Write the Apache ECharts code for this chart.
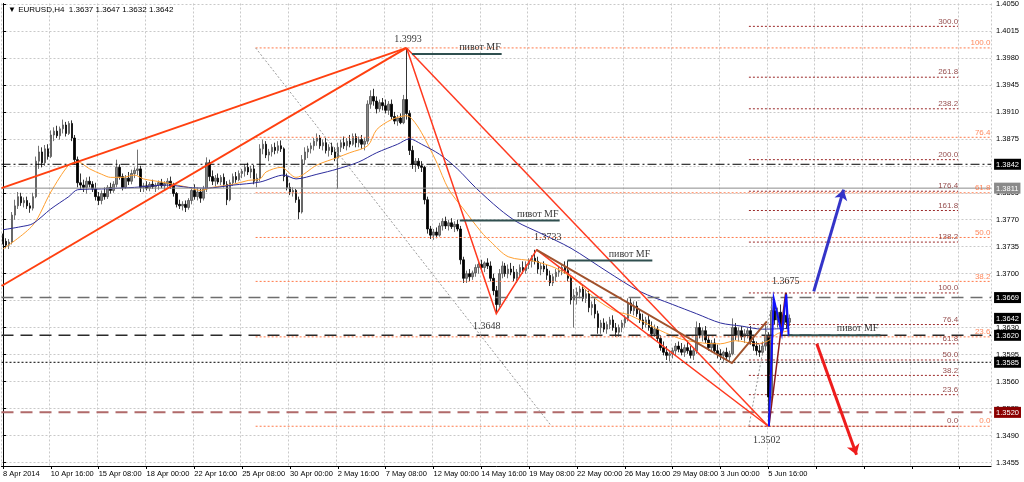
<!DOCTYPE html>
<html><head><meta charset="utf-8">
<script src="https://cdn.jsdelivr.net/npm/echarts@6/dist/echarts.min.js"></script>
<style>html,body{margin:0;padding:0;background:#fff}#c{width:1024px;height:482px}</style>
</head><body><div id="c"></div>
<script>
// ---------- DATA (prices in pips: 3842 -> 1.3842) ----------
const timeLabels = ["8 Apr 2014","10 Apr 16:00","15 Apr 08:00","18 Apr 00:00","22 Apr 16:00","25 Apr 08:00","30 Apr 00:00","2 May 16:00","7 May 08:00","12 May 00:00","14 May 16:00","19 May 08:00","22 May 00:00","26 May 16:00","29 May 08:00","3 Jun 00:00","5 Jun 16:00"];
const yTicks = [1.3455,1.3490,1.3525,1.3560,1.3595,1.3630,1.3665,1.3700,1.3735,1.3770,1.3805,1.3840,1.3875,1.3910,1.3945,1.3980,1.4015,1.4050];
const priceBoxes = [3842,3811,3669,3642,3620,3585,3520];
// [open, high, low, close]
const ohlc = [
[3748,3752,3738,3742],[3742,3746,3733,3737],[3737,3745,3732,3741],[3741,3780,3738,3776],[3776,3796,3770,3788],
[3788,3806,3784,3800],[3800,3805,3788,3792],[3792,3799,3786,3795],[3795,3800,3784,3788],[3788,3792,3779,3785],
[3785,3805,3782,3800],[3800,3852,3798,3846],[3846,3866,3836,3858],[3858,3864,3838,3844],[3844,3867,3840,3862],
[3862,3868,3848,3852],[3852,3886,3850,3880],[3880,3890,3872,3885],[3885,3892,3876,3879],[3879,3891,3874,3888],
[3888,3900,3882,3893],[3893,3897,3878,3882],[3882,3898,3880,3895],[3895,3899,3872,3876],[3876,3880,3842,3848],
[3848,3852,3812,3818],[3818,3830,3810,3815],[3815,3822,3806,3812],[3812,3825,3804,3820],[3820,3826,3812,3816],
[3816,3820,3806,3810],[3810,3818,3795,3800],[3800,3806,3789,3795],[3795,3808,3790,3804],[3804,3812,3796,3800],
[3800,3815,3797,3812],[3812,3818,3804,3808],[3808,3820,3805,3816],[3816,3848,3812,3838],[3838,3842,3822,3826],
[3826,3830,3808,3812],[3812,3828,3810,3824],[3824,3832,3815,3820],[3820,3835,3816,3830],[3830,3838,3824,3834],
[3834,3861,3828,3836],[3836,3840,3806,3812],[3812,3818,3806,3814],[3814,3820,3808,3811],[3811,3819,3807,3816],
[3816,3822,3810,3813],[3813,3818,3806,3815],[3815,3821,3809,3818],[3818,3823,3811,3814],[3814,3820,3808,3817],
[3817,3824,3812,3820],[3820,3826,3810,3814],[3814,3818,3800,3804],[3804,3806,3786,3790],[3790,3796,3784,3788],
[3788,3794,3782,3790],[3790,3795,3780,3786],[3786,3798,3783,3795],[3795,3812,3790,3808],[3808,3816,3796,3800],
[3800,3812,3795,3806],[3806,3810,3792,3798],[3798,3814,3795,3810],[3810,3851,3806,3844],[3844,3848,3820,3826],
[3826,3834,3815,3820],[3820,3828,3813,3824],[3824,3830,3816,3819],[3819,3828,3815,3825],[3825,3830,3812,3816],
[3816,3820,3789,3796],[3796,3822,3794,3818],[3818,3830,3814,3826],[3826,3832,3818,3822],[3822,3834,3820,3830],
[3830,3836,3824,3833],[3833,3842,3826,3838],[3838,3844,3828,3832],[3832,3840,3824,3836],[3836,3841,3816,3820],
[3820,3830,3812,3824],[3824,3868,3820,3862],[3862,3874,3855,3868],[3868,3872,3850,3854],[3854,3862,3846,3858],
[3858,3868,3852,3864],[3864,3870,3855,3860],[3860,3872,3856,3866],[3866,3873,3858,3862],[3862,3864,3820,3826],
[3826,3830,3808,3812],[3812,3818,3802,3806],[3806,3812,3800,3808],[3808,3810,3792,3796],[3796,3800,3771,3780],
[3780,3854,3778,3848],[3848,3864,3842,3858],[3858,3866,3850,3862],[3862,3870,3856,3866],[3866,3876,3860,3872],
[3872,3882,3866,3876],[3876,3880,3862,3866],[3866,3874,3860,3870],[3870,3876,3856,3860],[3860,3868,3852,3864],
[3864,3870,3854,3858],[3858,3864,3846,3850],[3850,3870,3810,3864],[3864,3874,3858,3870],[3870,3878,3862,3866],
[3866,3876,3860,3872],[3872,3880,3864,3868],[3868,3882,3866,3878],[3878,3882,3864,3870],[3870,3878,3864,3874],
[3874,3880,3862,3868],[3868,3876,3860,3872],[3872,3925,3868,3920],[3920,3938,3914,3930],[3930,3940,3918,3924],
[3924,3930,3908,3914],[3914,3926,3910,3922],[3922,3928,3912,3918],[3918,3926,3908,3912],[3912,3924,3906,3920],
[3920,3926,3900,3904],[3904,3910,3894,3898],[3898,3906,3892,3902],[3902,3908,3894,3896],[3896,3932,3894,3926],
[3926,3993,3900,3908],[3908,3912,3854,3860],[3860,3866,3836,3842],[3842,3850,3832,3846],[3846,3850,3836,3840],
[3840,3846,3832,3838],[3838,3840,3790,3796],[3796,3800,3752,3758],[3758,3762,3745,3750],[3750,3758,3744,3754],
[3754,3760,3746,3750],[3750,3766,3748,3762],[3762,3772,3756,3768],[3768,3774,3758,3762],[3762,3770,3756,3766],
[3766,3772,3758,3761],[3761,3768,3754,3764],[3764,3770,3755,3758],[3758,3762,3712,3718],[3718,3722,3688,3694],
[3694,3704,3688,3700],[3700,3706,3690,3696],[3696,3704,3692,3701],[3701,3712,3696,3708],[3708,3716,3700,3712],
[3712,3718,3704,3708],[3708,3716,3702,3714],[3714,3720,3706,3710],[3710,3716,3690,3694],[3694,3700,3672,3678],
[3678,3684,3648,3660],[3660,3706,3656,3700],[3700,3716,3694,3710],[3710,3714,3696,3700],[3700,3712,3694,3706],
[3706,3714,3698,3702],[3702,3710,3690,3694],[3694,3706,3688,3702],[3702,3712,3696,3708],[3708,3716,3700,3704],
[3704,3716,3700,3712],[3712,3720,3706,3716],[3716,3724,3708,3720],[3720,3731,3712,3716],[3716,3722,3700,3706],
[3706,3714,3698,3710],[3710,3716,3702,3706],[3706,3712,3692,3698],[3698,3704,3684,3688],[3688,3700,3684,3696],
[3696,3706,3690,3702],[3702,3710,3696,3704],[3704,3712,3698,3708],[3708,3716,3700,3704],[3704,3717,3690,3694],
[3694,3698,3660,3666],[3666,3680,3630,3672],[3672,3682,3660,3676],[3676,3684,3668,3680],[3680,3686,3664,3668],
[3668,3680,3662,3674],[3674,3678,3650,3656],[3656,3664,3646,3660],[3660,3668,3642,3648],[3648,3652,3622,3630],
[3630,3640,3622,3636],[3636,3642,3624,3628],[3628,3638,3622,3634],[3634,3644,3628,3640],[3640,3646,3626,3630],
[3630,3636,3618,3624],[3624,3634,3618,3630],[3630,3640,3624,3636],[3636,3646,3630,3642],[3642,3668,3638,3662],
[3662,3668,3648,3652],[3652,3664,3646,3658],[3658,3664,3644,3648],[3648,3654,3636,3640],[3640,3648,3628,3634],
[3634,3644,3630,3640],[3640,3646,3626,3630],[3630,3638,3618,3622],[3622,3634,3618,3628],[3628,3632,3612,3616],
[3616,3620,3600,3604],[3604,3612,3594,3598],[3598,3606,3588,3594],[3594,3600,3586,3596],[3596,3604,3590,3600],
[3600,3610,3594,3606],[3606,3612,3598,3602],[3602,3610,3594,3598],[3598,3608,3592,3604],[3604,3612,3596,3600],
[3600,3606,3590,3594],[3594,3604,3588,3600],[3600,3638,3596,3630],[3630,3636,3616,3620],[3620,3630,3612,3626],
[3626,3632,3610,3614],[3614,3620,3600,3604],[3604,3614,3598,3610],[3610,3616,3596,3600],[3600,3608,3590,3596],
[3596,3602,3588,3594],[3594,3600,3586,3598],[3598,3604,3588,3592],[3592,3600,3585,3596],[3596,3642,3594,3630],
[3630,3636,3614,3620],[3620,3630,3612,3626],[3626,3632,3614,3618],[3618,3628,3610,3622],[3622,3630,3616,3626],
[3626,3632,3608,3612],[3612,3618,3600,3606],[3606,3612,3594,3600],[3600,3608,3592,3598],[3598,3612,3594,3606],
[3606,3636,3600,3620],[3620,3624,3502,3540],[3540,3669,3532,3652],[3652,3664,3634,3640],[3640,3656,3630,3650],
[3650,3660,3628,3634],[3634,3652,3626,3646],[3646,3675,3628,3637],[3637,3647,3632,3642]
];
// moving averages: [bar index, pips]
const maFast = [[0,3732],[10,3763],[16,3806],[22,3841],[25,3845],[29,3836],[33,3829],[36,3825],[40,3825],[44,3828],[47,3823],[53,3819],[57,3816],[62,3812],[66,3808],[70,3812],[77,3816],[82,3821],[86,3823],[88,3832],[93,3838],[98,3825],[105,3841],[112,3851],[116,3857],[122,3866],[125,3887],[130,3900],[135,3905],[137,3900],[140,3883],[145,3845],[149,3810],[154,3784],[160,3754],[163,3742],[169,3722],[178,3716],[185,3707],[192,3690],[198,3668],[205,3651],[209,3647],[214,3638],[220,3626],[227,3615],[234,3610],[240,3609],[245,3613],[252,3609],[256,3613],[259,3622],[263,3626]];
const maSlow = [[0,3757],[6,3761],[10,3765],[16,3784],[22,3800],[25,3809],[33,3810],[44,3812],[55,3815],[62,3812],[68,3811],[77,3815],[86,3819],[94,3828],[98,3823],[105,3829],[112,3836],[119,3845],[125,3857],[132,3868],[136,3875],[140,3868],[146,3855],[152,3836],[158,3812],[166,3784],[172,3767],[179,3754],[190,3733],[202,3703],[213,3677],[224,3660],[232,3648],[240,3636],[247,3632],[254,3628],[263,3629]];
// horizontal levels
const lvlDashDot = 3842, lvlGray = 3811, lvlHigh = 3669, lvlPivot = 3620, lvlDotted = 3585, lvlLow = 3520;
// fibonacci sets (price of each level)
const fibALabels = ["0.0","23.6","38.2","50.0","61.8","76.4","100.0"];
const fibAPrices = [3502,3618,3690,3747,3805,3877,3993];
const fibBLabels = ["0.0","23.6","38.2","50.0","61.8","76.4","100.0","138.2","161.8","176.4","200.0","238.2","261.8","300.0"];
const fibBPrices = [3502,3543,3568,3588,3609,3634,3675,3741,3782,3807,3848,3914,3955,4021];
// drawn objects: [bar index, pips]
const redThick = [[[-0.5,3811],[135,3993]],[[-0.5,3684],[135,3993]]];
const redThin = [[[135,3993],[165,3648],[178.5,3731],[256,3502]],[[135,3993],[256,3502]]];
const brownZig = [[178.5,3731],[243.8,3584],[255.5,3638]];
const darkRedLeg = [[256.2,3502],[261.8,3675]];
const blueZig = [[256.2,3502],[257.8,3668],[260.5,3622],[262,3673],[262.8,3619]];
const fibADiag = [[84.5,3993],[183.5,3502]];
const fibBDiag = [[249.5,3502],[257.5,3669]];
const pivotLines = [[[136.8,3985],[166.8,3985]],[[152.8,3769],[186.2,3769]],[[188.8,3717],[217.2,3717]],[[262.8,3620],[293.5,3620]]];
const arrowUp = [[271.2,3677],[281.2,3809]];
const arrowDown = [[272.2,3609],[285.5,3465]];
const notes = [["1.3993",135.5,4004,"center"],["пивот MF",166.5,3994,"right"],["пивот MF",185.8,3777,"right"],["1.3733",182.2,3747,"center"],["пивот MF",216.5,3725,"right"],["1.3648",161.8,3631,"center"],["1.3675",261.8,3690,"center"],["1.3502",255.5,3484,"center"],["пивот MF",292.8,3629,"right"]];

// ---------- CHART ----------
const SLOTS = 331, XMIN = -0.5, XMAX = SLOTS - 0.5;
const P = v => 1 + v / 10000;
const seg = pts => pts.map(([i, v]) => [i, P(v)]);
const YMIN = 1.34504, YMAX = 1.40507;
const sans = 'Liberation Sans', serif = 'Liberation Serif';

function lineSeries(list, style, extra) {
  return Object.assign({
    type: 'lines', coordinateSystem: 'cartesian2d', xAxisIndex: 1, yAxisIndex: 0,
    polyline: true, silent: true, z: 4, animation: false,
    lineStyle: Object.assign({ opacity: 1, curveness: 0 }, style),
    data: list.map(pts => ({ coords: seg(pts) }))
  }, extra || {});
}
const full = v => [[XMIN, v], [XMAX, v]];

const series = [];
series.push({
  type: 'candlestick', xAxisIndex: 0, yAxisIndex: 0, barWidth: 2, z: 2,
  data: ohlc.map(([o, h, l, c]) => [P(o), P(c), P(l), P(h)]),
  itemStyle: { color: '#858585', color0: '#000000', borderColor: '#505050', borderColor0: '#000000', borderWidth: 0.8 }
});
// horizontal levels
series.push(lineSeries([full(lvlDashDot)], { color: '#000', width: 1, type: [9, 3, 2, 3] }));
series.push(lineSeries([full(lvlGray)], { color: '#8c8c8c', width: 1 }));
series.push(lineSeries([full(lvlHigh)], { color: '#6e6e6e', width: 1.5, type: [12, 7] }));
series.push(lineSeries([full(lvlPivot)], { color: '#2a2a2a', width: 1.5, type: [12, 7] }));
series.push(lineSeries([full(lvlDotted)], { color: '#000', width: 1, type: [2, 2] }));
series.push(lineSeries([full(lvlLow)], { color: '#b06a6a', width: 2, type: [12, 7] }));
// fib A (orange) from x of anchor to right edge
series.push(lineSeries(fibAPrices.map(v => [[84.5, v], [XMAX, v]]), { color: '#ff7a4a', width: 1, type: [2, 2] }));
series.push(lineSeries([fibADiag], { color: '#9a9a9a', width: 1, type: [2, 2] }));
// fib B (dark red)
series.push(lineSeries(fibBPrices.map(v => [[249.5, v], [319.5, v]]), { color: '#9b2a2a', width: 1, type: [2, 2] }));
series.push(lineSeries([fibBDiag], { color: '#9a9a9a', width: 1, type: [2, 2] }));
// moving averages
series.push({ type: 'line', xAxisIndex: 1, yAxisIndex: 0, data: seg(maFast), symbol: 'none', smooth: 0.3, z: 3,
  lineStyle: { color: '#ffa030', width: 1 } });
series.push({ type: 'line', xAxisIndex: 1, yAxisIndex: 0, data: seg(maSlow), symbol: 'none', smooth: 0.3, z: 3,
  lineStyle: { color: '#2c2c9c', width: 1 } });
// trend objects
series.push(lineSeries(redThick, { color: '#ff4010', width: 2 }));
series.push(lineSeries(redThin, { color: '#ff3a20', width: 1.5 }));
series.push(lineSeries([brownZig], { color: '#a0522d', width: 2 }));
series.push(lineSeries([darkRedLeg], { color: '#8b1a1a', width: 1.5 }));
series.push(lineSeries([blueZig], { color: '#1010ff', width: 2 }));
series.push(lineSeries(pivotLines, { color: '#2f4f4f', width: 2 }));
series.push(lineSeries([arrowUp], { color: '#3434c8', width: 3 }, { polyline: false, symbol: ['none', 'arrow'], symbolSize: 10 }));
series.push(lineSeries([arrowDown], { color: '#ee1c1c', width: 3 }, { polyline: false, symbol: ['none', 'arrow'], symbolSize: 10 }));
// text notes
series.push({
  type: 'scatter', xAxisIndex: 1, yAxisIndex: 0, symbolSize: 0, silent: true, z: 6,
  data: notes.map(([t, i, v, a]) => ({ value: [i, P(v)], label: { formatter: t, align: a } })),
  label: { show: true, position: 'inside', verticalAlign: 'middle', color: '#000', fontSize: 10, fontFamily: serif }
});
// fib labels
series.push({
  type: 'scatter', xAxisIndex: 1, yAxisIndex: 0, symbolSize: 0, silent: true, z: 6,
  data: fibAPrices.map((v, k) => ({ value: [330.3, P(v)], label: { formatter: fibALabels[k] } })),
  label: { show: true, position: 'inside', align: 'right', verticalAlign: 'bottom', color: '#ff6a33', fontSize: 8, fontFamily: sans, offset: [0, -1] }
});
series.push({
  type: 'scatter', xAxisIndex: 1, yAxisIndex: 0, symbolSize: 0, silent: true, z: 6,
  data: fibBPrices.map((v, k) => ({ value: [319.5, P(v)], label: { formatter: fibBLabels[k] } })),
  label: { show: true, position: 'inside', align: 'right', verticalAlign: 'bottom', color: '#7a2020', fontSize: 8, fontFamily: sans, offset: [0, -1] }
});

const boxKind = { 3811: 'g', 3520: 'r' };
const boxStyle = (bg) => ({ backgroundColor: bg, color: '#fff', fontSize: 7.5, fontFamily: sans, padding: [2, 2, 1, 2] });

const option = {
  animation: false,
  backgroundColor: '#ffffff',
  title: { text: '▼ EURUSD,H4  1.3637 1.3647 1.3632 1.3642', left: 3, top: 1,
    textStyle: { fontSize: 8, fontWeight: 'normal', fontFamily: sans, color: '#000' } },
  grid: { left: 0, right: 31, top: 0, bottom: 16, containLabel: false },
  xAxis: [
    { type: 'category', data: Array.from({ length: SLOTS }, (_, k) => String(k)), boundaryGap: true,
      axisLine: { show: true, lineStyle: { color: '#000', width: 1 } },
      axisTick: { show: true, interval: 15, alignWithLabel: true, length: 3, lineStyle: { color: '#000' } },
      axisLabel: { interval: 15, align: 'left', margin: 4, fontSize: 7.5, fontFamily: sans, color: '#000',
        formatter: v => { const k = Number(v); return k % 16 === 0 ? (timeLabels[k / 16] || '') : ''; } },
      splitLine: { show: true, interval: 15, lineStyle: { color: '#c9c9c9', type: [2, 2] } } },
    { type: 'value', min: XMIN, max: XMAX, show: false }
  ],
  yAxis: [
    { type: 'value', position: 'right', min: YMIN, max: YMAX, scale: true,
      axisLine: { show: true, lineStyle: { color: '#000' } },
      axisTick: { show: true, customValues: yTicks, length: 3, lineStyle: { color: '#000' } },
      axisLabel: { customValues: yTicks, formatter: v => v.toFixed(4), fontSize: 7.5, fontFamily: sans, color: '#000', margin: 5 },
      splitLine: { show: true, lineStyle: { color: '#c9c9c9', type: [2, 2] } } },
    { type: 'value', position: 'right', min: YMIN, max: YMAX, scale: true, z: 10,
      axisLine: { show: false }, axisTick: { show: false }, splitLine: { show: false },
      axisLabel: { customValues: priceBoxes.map(P), margin: 3,
        formatter: v => { const k = Math.round((v - 1) * 10000); return '{' + (boxKind[k] || 'b') + '|' + v.toFixed(4) + '}'; },
        rich: { b: boxStyle('#000000'), g: boxStyle('#8a8a8a'), r: boxStyle('#8b0000') } } }
  ],
  series
};
const chart = echarts.init(document.getElementById('c'), null, { renderer: 'canvas' });
chart.setOption(option);
</script>
</body></html>
